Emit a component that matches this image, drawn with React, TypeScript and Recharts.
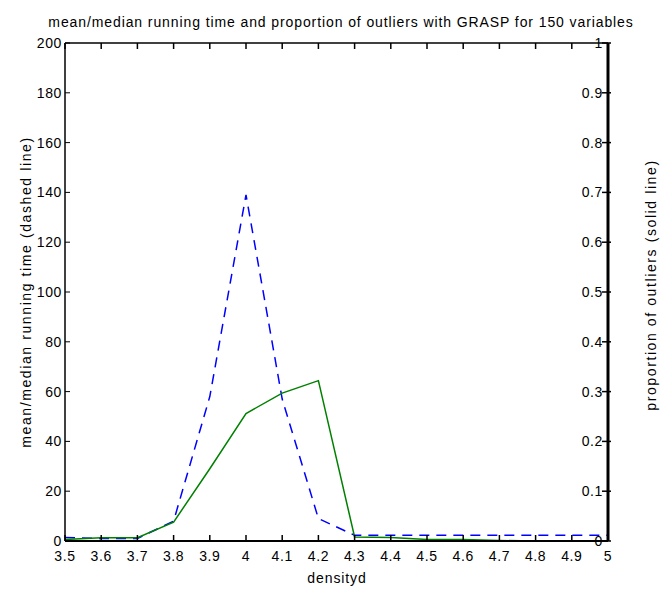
import React from 'react';
import { LineChart, Line, XAxis, YAxis } from 'recharts';

const density = [3.5, 3.6, 3.7, 3.8, 3.9, 4.0, 4.1, 4.2, 4.3, 4.4, 4.5, 4.6, 4.7, 4.8, 4.9, 5.0];
const runningTime = [1.4, 1, 1, 8, 58, 139, 57, 9, 2.3, 2.3, 2.3, 2.3, 2.3, 2.3, 2.3, 2.3];
const outliers = [0.003, 0.0065, 0.0065, 0.038, 0.145, 0.256, 0.297, 0.322, 0.008, 0.007, 0.003, 0.003, 0.001, 0, 0, 0];

const xTicks = [3.5, 3.6, 3.7, 3.8, 3.9, 4, 4.1, 4.2, 4.3, 4.4, 4.5, 4.6, 4.7, 4.8, 4.9, 5];
const leftTicks = [0, 20, 40, 60, 80, 100, 120, 140, 160, 180, 200];
const rightTicks = [0, 0.1, 0.2, 0.3, 0.4, 0.5, 0.6, 0.7, 0.8, 0.9, 1];

const data = density.map((d, i) => ({ d, time: runningTime[i], prop: outliers[i] }));

const font = '"Liberation Sans", Arial, sans-serif';
const txt = { fontFamily: font, fontSize: 14, fill: '#000', letterSpacing: 0.6 };

const BottomTick = ({ x, y, payload }: any) => (
  <g>
    <line x1={x} x2={x} y1={y} y2={y - 6} stroke="#000" strokeWidth={1.5} />
    <text x={x} y={y + 20} textAnchor="middle" style={txt}>{payload.value}</text>
  </g>
);

const TopTick = ({ x, y }: any) => (
  <line x1={x} x2={x} y1={y} y2={y + 6} stroke="#000" strokeWidth={1.5} />
);

const LeftTick = ({ x, y, payload }: any) => (
  <g>
    <line x1={x} x2={x + 5} y1={y} y2={y} stroke="#000" strokeWidth={1} />
    <text x={x - 3} y={y + 5} textAnchor="end" style={txt}>{payload.value}</text>
  </g>
);

const RightTick = ({ x, y, payload }: any) => (
  <g>
    <line x1={x - 6} x2={x + 3} y1={y} y2={y} stroke="#000" strokeWidth={1.5} />
    <text x={x - 5} y={y + 5} textAnchor="end" style={txt}>{payload.value}</text>
  </g>
);

const label: React.CSSProperties = {
  position: 'absolute',
  fontFamily: font,
  fontSize: 14,
  letterSpacing: 0.9,
  whiteSpace: 'nowrap',
  color: '#000',
};

export default function App() {
  return (
    <div style={{ position: 'absolute', left: 0, top: 0, width: 662, height: 593, background: '#fff' }}>
      <LineChart width={662} height={593} data={data} margin={{ top: 42, right: 53, bottom: 51, left: 64 }}>
        <XAxis
          dataKey="d"
          type="number"
          domain={[3.5, 5]}
          ticks={xTicks}
          height={1}
          tickSize={0}
          tickMargin={0}
          tick={<BottomTick />}
          tickLine={false}
          axisLine={{ stroke: '#000', strokeWidth: 2 }}
          interval={0}
        />
        <XAxis
          xAxisId="top"
          orientation="top"
          dataKey="d"
          type="number"
          domain={[3.5, 5]}
          ticks={xTicks}
          height={1}
          tickSize={0}
          tickMargin={0}
          tick={<TopTick />}
          tickLine={false}
          axisLine={{ stroke: '#000', strokeWidth: 1.5 }}
          interval={0}
        />
        <YAxis
          yAxisId="left"
          domain={[0, 200]}
          ticks={leftTicks}
          width={1}
          tickSize={0}
          tickMargin={0}
          tick={<LeftTick />}
          tickLine={false}
          axisLine={{ stroke: '#000', strokeWidth: 1.5 }}
          interval={0}
        />
        <YAxis
          yAxisId="right"
          orientation="right"
          domain={[0, 1]}
          ticks={rightTicks}
          width={1}
          tickSize={0}
          tickMargin={0}
          tick={<RightTick />}
          tickLine={false}
          axisLine={{ stroke: '#000', strokeWidth: 3 }}
          interval={0}
        />
        <Line
          yAxisId="left"
          dataKey="time"
          stroke="#0000ff"
          strokeWidth={1.5}
          strokeDasharray="10 7"
          dot={false}
          isAnimationActive={false}
        />
        <Line
          yAxisId="right"
          dataKey="prop"
          stroke="#008000"
          strokeWidth={1.5}
          dot={false}
          isAnimationActive={false}
        />
      </LineChart>
      <div style={{ ...label, left: 341, top: 22, transform: 'translate(-50%, -50%)' }}>
        mean/median running time and proportion of outliers with GRASP for 150 variables
      </div>
      <div style={{ ...label, left: 337, top: 578, transform: 'translate(-50%, -50%)' }}>densityd</div>
      <div style={{ ...label, left: 26, top: 292, letterSpacing: 1.6, transform: 'translate(-50%, -50%) rotate(-90deg)' }}>
        mean/median running time (dashed line)
      </div>
      <div style={{ ...label, left: 651, top: 285, letterSpacing: 1.6, transform: 'translate(-50%, -50%) rotate(-90deg)' }}>
        proportion of outliers (solid line)
      </div>
    </div>
  );
}
